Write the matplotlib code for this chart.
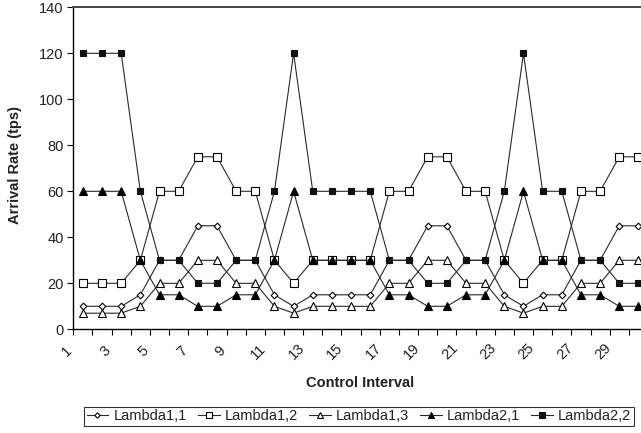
import matplotlib
matplotlib.use("Agg")
import matplotlib.pyplot as plt
from matplotlib.transforms import ScaledTranslation
import numpy as np

plt.rcParams['font.family'] = ['Liberation Sans', 'DejaVu Sans']

intervals = list(range(1, 31))
lambda11 = [10, 10, 10, 15, 30, 30, 45, 45, 30, 30, 15, 10, 15, 15, 15,
            15, 30, 30, 45, 45, 30, 30, 15, 10, 15, 15, 30, 30, 45, 45]
lambda12 = [20, 20, 20, 30, 60, 60, 75, 75, 60, 60, 30, 20, 30, 30, 30,
            30, 60, 60, 75, 75, 60, 60, 30, 20, 30, 30, 60, 60, 75, 75]
lambda13 = [7, 7, 7, 10, 20, 20, 30, 30, 20, 20, 10, 7, 10, 10, 10,
            10, 20, 20, 30, 30, 20, 20, 10, 7, 10, 10, 20, 20, 30, 30]
lambda21 = [60, 60, 60, 30, 15, 15, 10, 10, 15, 15, 30, 60, 30, 30, 30,
            30, 15, 15, 10, 10, 15, 15, 30, 60, 30, 30, 15, 15, 10, 10]
lambda22 = [120, 120, 120, 60, 30, 30, 20, 20, 30, 30, 60, 120, 60, 60, 60,
            60, 30, 30, 20, 20, 30, 30, 60, 120, 60, 60, 30, 30, 20, 20]
series_names = ["Lambda1,1", "Lambda1,2", "Lambda1,3", "Lambda2,1", "Lambda2,2"]
xtick_labels = [str(i) for i in range(1, 30, 2)]
yticks = [0, 20, 40, 60, 80, 100, 120, 140]

fig = plt.figure(figsize=(6.41, 4.33), dpi=100)
ax = fig.add_axes([73.3/641, (433-329.3)/433, (648-73.3)/641, (329.3-7.3)/433])

lc = '#2a2a2a'
styles = [
    dict(marker='D', mfc='white', mec='black', ms=3.4, mew=0.8),
    dict(marker='s', mfc='white', mec='black', ms=5.8, mew=0.8),
    dict(marker='^', mfc='white', mec='black', ms=6.2, mew=0.8),
    dict(marker='^', mfc='black', mec='black', ms=6.2, mew=0.8),
    dict(marker='s', mfc='#111111', mec='#111111', ms=5.0, mew=0.8),
]
data = [lambda11, lambda12, lambda13, lambda21, lambda22]
handles = []
for vals, name, st in zip(data, series_names, styles):
    h, = ax.plot(intervals, vals, color=lc, lw=0.8, label=name, **st)
    handles.append(h)

ax.set_xlim(0.5, 30.5)
ax.set_ylim(0, 140)
ax.set_yticks(yticks)
ax.set_yticklabels([str(v) for v in yticks], fontsize=10.5, color='#222222')
ax.tick_params(axis='y', length=4, width=0.8, pad=3, direction='out')

# category boundary ticks
ax.set_xticks(np.arange(0.5, 31, 1.0))
ax.set_xticklabels([])
ax.tick_params(axis='x', which='major', length=4, width=0.8, direction='out')
ax.set_xticks(list(range(1, 30, 2)), minor=True)
ax.set_xticklabels(xtick_labels, minor=True, fontsize=10.5, rotation=45,
                   ha='center', va='center', rotation_mode='anchor', color='#222222')
ax.tick_params(axis='x', which='minor', length=0, pad=16)
off = ScaledTranslation(-16/100, 0, fig.dpi_scale_trans)
for lab in ax.get_xticklabels(minor=True):
    lab.set_transform(lab.get_transform() + off)

for s in ['left', 'bottom']:
    ax.spines[s].set_linewidth(1.0)
    ax.spines[s].set_color('black')
ax.spines['top'].set_linewidth(1.4)
ax.spines['top'].set_color('#444444')
ax.spines['right'].set_visible(False)

fig.text(15/641, 1 - 165/433, "Arrival Rate (tps)", rotation=90, ha='center', va='center',
         fontsize=10.5, fontweight='bold', color='#222222')
fig.text(360/641, 1 - 383/433, "Control Interval", ha='center', va='center',
         fontsize=10.5, fontweight='bold', color='#222222')

leg = fig.legend(handles=handles, labels=series_names, loc='center',
                 bbox_to_anchor=(359/641, 1 - 416.5/433), ncol=5, fontsize=10.5,
                 frameon=True, fancybox=False, edgecolor='black', handlelength=1.5,
                 handletextpad=0.35, columnspacing=0.75, borderpad=0.2, markerscale=0.8)
leg.get_frame().set_linewidth(0.8)
for t in leg.get_texts():
    t.set_color('#222222')

fig.savefig("out.png", dpi=100)
